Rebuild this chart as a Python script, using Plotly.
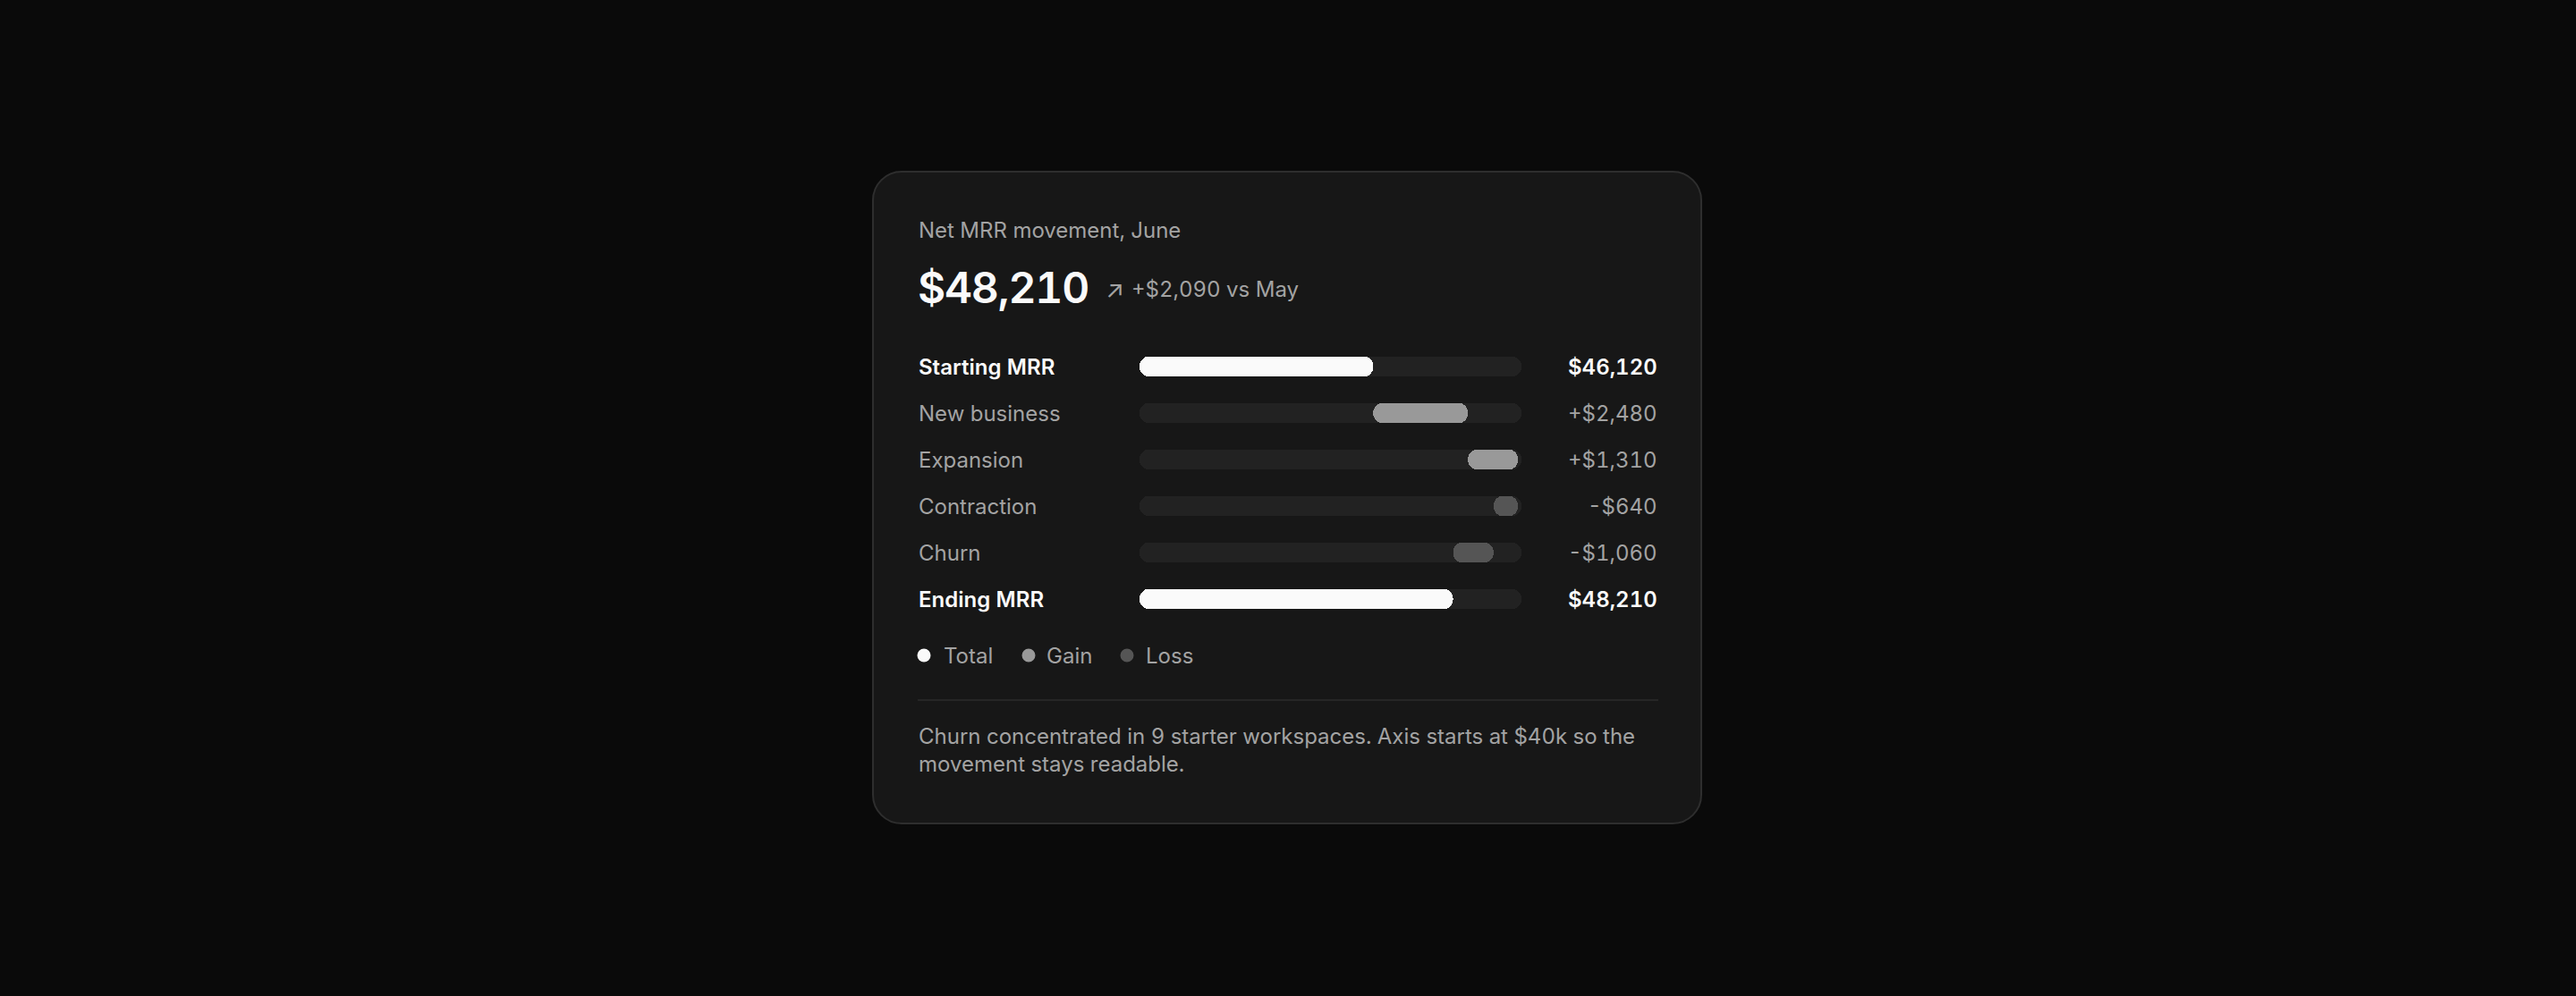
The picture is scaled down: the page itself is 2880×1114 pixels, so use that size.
import plotly.graph_objects as go

# ---------------- data ----------------
categories = ["Starting MRR", "New business", "Expansion", "Contraction", "Churn", "Ending MRR"]
values = [46120, 2480, 1310, -640, -1060, 48210]
kinds = ["total", "gain", "gain", "loss", "loss", "total"]
value_labels = ["$46,120", "+$2,480", "+$1,310", "-$640", "-$1,060", "$48,210"]
axis_min, axis_max = 40000, 50000
legend_items = ["Total", "Gain", "Loss"]
title_text = "Net MRR movement, June"
headline_value = "$48,210"
delta_text = "+$2,090 vs May"
footnote = "Churn concentrated in 9 starter workspaces. Axis starts at $40k so the<br>movement stays readable."

# ---------------- style ----------------
W, H = 2880, 1114
FONT = "Inter, 'Noto Sans', sans-serif"
BG = "#0a0a0a"
CARD = "#171717"
CARD_BORDER = "#2e2e2e"
TRACK = "#222222"
WHITE = "#fafafa"
GRAY_TXT = "#a3a3a3"
COLORS = {"total": "#fafafa", "gain": "#999999", "loss": "#555555"}


def X(px):
    return px / W


def Y(py):
    return 1 - py / H


def rounded_rect(x0, y0, x1, y1, r):
    k = 0.5523 * r
    pts = [
        f"M {X(x0 + r)},{Y(y0)}",
        f"L {X(x1 - r)},{Y(y0)}",
        f"C {X(x1 - r + k)},{Y(y0)} {X(x1)},{Y(y0 + r - k)} {X(x1)},{Y(y0 + r)}",
        f"L {X(x1)},{Y(y1 - r)}",
        f"C {X(x1)},{Y(y1 - r + k)} {X(x1 - r + k)},{Y(y1)} {X(x1 - r)},{Y(y1)}",
        f"L {X(x0 + r)},{Y(y1)}",
        f"C {X(x0 + r - k)},{Y(y1)} {X(x0)},{Y(y1 - r + k)} {X(x0)},{Y(y1 - r)}",
        f"L {X(x0)},{Y(y0 + r)}",
        f"C {X(x0)},{Y(y0 + r - k)} {X(x0 + r - k)},{Y(y0)} {X(x0 + r)},{Y(y0)}",
        "Z",
    ]
    return " ".join(pts)


# ---------------- bar geometry from data ----------------
starts, lengths = [], []
running = None
for v, k in zip(values, kinds):
    if k == "total":
        starts.append(axis_min)
        lengths.append(v - axis_min)
        running = v
    elif v >= 0:
        starts.append(running)
        lengths.append(v)
        running += v
    else:
        starts.append(running + v)
        lengths.append(-v)
        running += v

BAR_W = 0.44
fig = go.Figure()
fig.add_trace(go.Bar(
    y=categories, x=[axis_max - axis_min] * len(categories), base=[axis_min] * len(categories),
    orientation="h", width=BAR_W, marker=dict(color=TRACK, cornerradius="50%", line_width=0),
    hoverinfo="skip", showlegend=False))
for kind in ["total", "gain", "loss"]:
    idx = [i for i, k in enumerate(kinds) if k == kind]
    fig.add_trace(go.Bar(
        y=[categories[i] for i in idx], x=[lengths[i] for i in idx], base=[starts[i] for i in idx],
        orientation="h", width=BAR_W,
        marker=dict(color=COLORS[kind], cornerradius="50%", line_width=0),
        hoverinfo="skip", showlegend=False, name=kind))

shapes = [
    dict(type="path", path=rounded_rect(976, 192, 1902, 921, 32), xref="paper", yref="paper",
         fillcolor=CARD, line=dict(color=CARD_BORDER, width=2), layer="below"),
    dict(type="line", xref="paper", yref="paper", x0=X(1026), x1=X(1854), y0=Y(783), y1=Y(783),
         line=dict(color="#262626", width=2)),
]

annotations = []


def txt(text, x, y, size, color, weight=400, xanchor="left", yref="paper", yy=None):
    annotations.append(dict(
        text=text, x=X(x), y=(Y(y) if yref == "paper" else yy), xref="paper", yref=yref,
        xanchor=xanchor, yanchor="middle", showarrow=False, align="left",
        font=dict(family=FONT, size=size, color=color, weight=weight)))


txt(title_text, 1025, 257, 24, GRAY_TXT)
txt(headline_value, 1024, 321, 48, WHITE, 600)   # annotation index 1
txt("↗", 1234, 323, 27, GRAY_TXT)
txt(delta_text, 1263, 323, 24, GRAY_TXT)

for cat, k, lab in zip(categories, kinds, value_labels):
    is_total = k == "total"
    txt(cat, 1025, None, 24, WHITE if is_total else GRAY_TXT, 600 if is_total else 400,
        yref="y", yy=cat)
    txt(lab, 1855, None, 24, WHITE if is_total else GRAY_TXT, 600 if is_total else 400,
        xanchor="right", yref="y", yy=cat)

# legend
leg_dot_x = [1033, 1150, 1260]
leg_txt_x = [1053, 1168, 1279]
for name, dx, tx in zip(legend_items, leg_dot_x, leg_txt_x):
    col = COLORS[name.lower()]
    shapes.append(dict(type="circle", xref="paper", yref="paper",
                       x0=X(dx - 7.5), x1=X(dx + 7.5), y0=Y(733 + 7.5), y1=Y(733 - 7.5),
                       fillcolor=col, line_width=0))
    txt(name, tx, 733, 24, GRAY_TXT)

txt(footnote, 1025, 839, 24, GRAY_TXT)

fig.update_layout(
    width=W, height=H, margin=dict(l=0, r=0, t=0, b=0),
    paper_bgcolor=BG, plot_bgcolor="rgba(0,0,0,0)",
    barmode="overlay", bargap=0,
    xaxis=dict(range=[axis_min, axis_max], domain=[X(1274), X(1701)], visible=False, fixedrange=True),
    yaxis=dict(categoryorder="array", categoryarray=categories, range=[5.5, -0.5],
               domain=[Y(696), Y(384)], visible=False, fixedrange=True),
    shapes=shapes, annotations=annotations, showlegend=False,
    font=dict(family=FONT),
)

post = (
    "document.body.style.margin='0';document.body.style.overflow='hidden';"
    "var s=document.createElement('style');"
    "s.textContent=\"text{font-feature-settings:'tnum' 1;font-variant-numeric:tabular-nums;}"
    " g.annotation[data-index='1'] text{letter-spacing:-1.2px;}\";"
    "document.head.appendChild(s);"
    "var gd=document.getElementById('{plot_id}');"
    "gd.layout.annotations.forEach(function(a){a.font.size=a.font.size+0.001;});"
    "Plotly.newPlot(gd, gd.data, gd.layout, {displayModeBar:false, staticPlot:true});"
)

fig.write_html("out.html", config={"displayModeBar": False, "staticPlot": True}, post_script=post)
